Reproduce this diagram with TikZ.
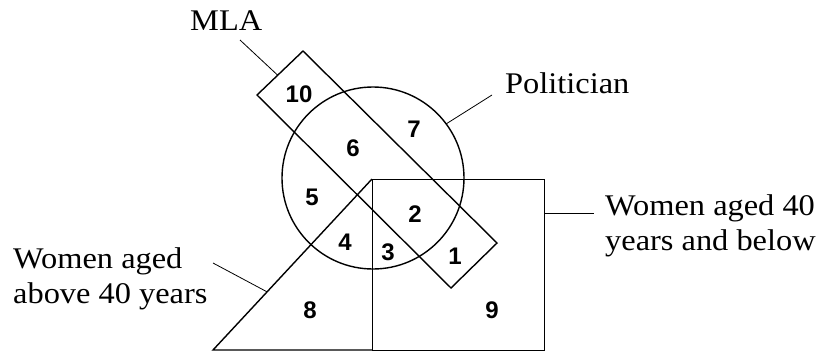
\documentclass[tikz,border=0pt]{standalone}
\usepackage{fontspec}
\setmainfont{Liberation Serif}[FakeStretch=1.08]
\newfontfamily\numfont{Liberation Sans}
\usetikzlibrary{calc}
\tikzset{
  shapeline/.style={line width=1.4pt, black},
  leader/.style={line width=0.8pt, black},
  lbl/.style={inner sep=0pt, anchor=base west, font=\fontsize{30}{35}\selectfont},
  num/.style={inner sep=0pt, font=\numfont\bfseries\fontsize{24}{28}\selectfont}
}
\begin{document}
\begin{tikzpicture}[x=1pt,y=-1pt]
\useasboundingbox[fill=white] (0,0) rectangle (827,354);
% circle (Politician)
\node[shapeline, draw, circle, minimum size=182pt, inner sep=0pt] (pol) at (373,178) {};
% square (Women aged 40 years and below)
\node[shapeline, draw, rectangle, minimum width=172pt, minimum height=171pt, inner sep=0pt, anchor=north west] (sq) at (372,179) {};
% triangle (Women aged above 40 years)
\coordinate (tA) at (372,179);
\coordinate (tL) at (213,350);
\coordinate (tR) at (372,350);
\draw[shapeline, line join=miter] (tA) -- (tL) -- (tR);
% MLA rectangle
\coordinate (mL) at (257,95);
\coordinate (mT) at (303,51);
\coordinate (mR) at (497,243);
\coordinate (mB) at (451,288);
\draw[shapeline] (mL) -- (mT) -- (mR) -- (mB) -- cycle;
% labels
\node[lbl, anchor=base west] (lMLA) at (190,30) {MLA};
\node[lbl] (lPol) at (505,93) {Politician};
\node[lbl] (lW1) at (605,215) {Women aged 40};
\node[lbl] (lW2) at (605,250) {years and below};
\node[lbl] (lA1) at (13,268) {Women aged};
\node[lbl] (lA2) at (13,303) {above 40 years};
% leaders
\coordinate (eMLA) at ($(mL)!0.45!(mT)$);
\coordinate (sMLA) at (240,40);
\draw[leader] (sMLA) -- (eMLA);
\coordinate (ePol) at ($(pol.center)+(36.7:91pt)$);
\coordinate (ePol) at (446,124);
\coordinate (sPol) at (492,95);
\draw[leader] (ePol) -- (sPol);
\coordinate (eW) at (544,213);
\coordinate (sW) at (594,213);
\draw[leader] (eW) -- (sW);
\coordinate (eA) at ($(tL)!0.34!(tA)$);
\coordinate (sA) at (213,263);
\draw[leader] (sA) -- (eA);
% region numbers
\node[num] (n10) at (299,94) {10};
\node[num] (n7) at (414,129) {7};
\node[num] (n6) at (353,148) {6};
\node[num] (n5) at (312,197) {5};
\node[num] (n2) at (415,214) {2};
\node[num] (n4) at (345,242) {4};
\node[num] (n3) at (388,252) {3};
\node[num] (n1) at (455,256) {1};
\node[num] (n8) at (310,310) {8};
\node[num] (n9) at (492,310) {9};
\end{tikzpicture}
\end{document}
